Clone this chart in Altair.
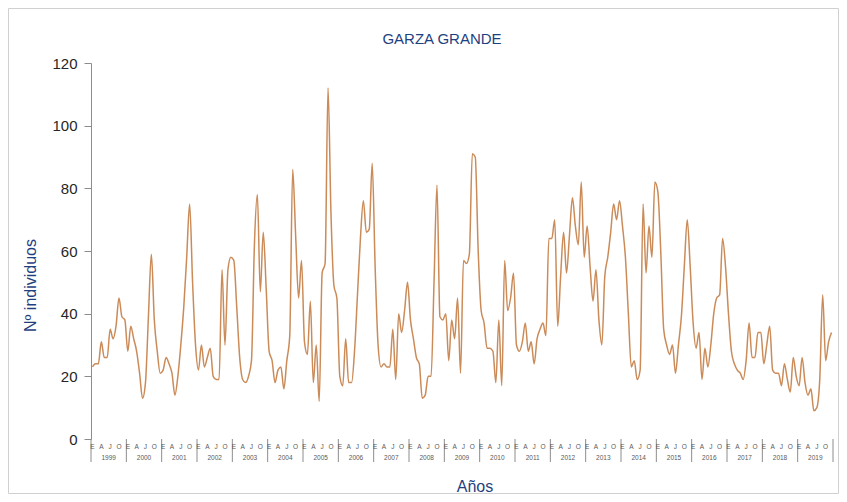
import altair as alt
import pandas as pd

# ---------------- data (monthly counts) ----------------
years = list(range(1999, 2020))
y1999 = [23, 24, 24, 31, 26, 26, 35, 32, 36, 45, 39, 38]
y2000 = [28, 36, 32, 28, 21, 13, 18, 39, 59, 38, 28, 21]
y2001 = [22, 26, 24, 21, 14, 20, 30, 42, 58, 75, 50, 30]
y2002 = [22, 30, 23, 26, 29, 20, 19, 19, 54, 30, 54, 58]
y2003 = [57, 42, 26, 19, 18, 20, 25, 62, 78, 47, 66, 48]
y2004 = [28, 25, 18, 22, 23, 16, 25, 33, 86, 65, 45, 57]
y2005 = [31, 27, 44, 18, 30, 12, 53, 56, 112, 72, 49, 45]
y2006 = [20, 17, 32, 18, 18, 28, 46, 64, 76, 66, 67, 88]
y2007 = [55, 30, 23, 24, 23, 23, 35, 19, 40, 34, 41, 50]
y2008 = [38, 32, 26, 24, 13, 14, 20, 20, 50, 81, 39, 38]
y2009 = [40, 25, 38, 32, 45, 21, 57, 56, 59, 91, 90, 60]
y2010 = [41, 37, 29, 29, 28, 18, 38, 17, 57, 41, 45, 53]
y2011 = [30, 28, 31, 37, 28, 31, 24, 32, 35, 37, 33, 64]
y2012 = [64, 70, 36, 52, 66, 53, 65, 77, 68, 62, 82, 58]
y2013 = [68, 55, 44, 54, 38, 30, 52, 58, 66, 75, 70, 76]
y2014 = [68, 58, 40, 23, 25, 19, 22, 75, 53, 68, 58, 82]
y2015 = [79, 60, 35, 30, 27, 30, 21, 30, 39, 55, 70, 55]
y2016 = [37, 29, 34, 19, 29, 23, 30, 40, 45, 46, 64, 55]
y2017 = [40, 28, 24, 22, 21, 19, 25, 37, 26, 26, 34, 34]
y2018 = [24, 30, 36, 22, 21, 21, 17, 24, 19, 15, 26, 20]
y2019 = [17, 26, 18, 14, 16, 9, 10, 19, 46, 25, 31, 34]
series = [y1999, y2000, y2001, y2002, y2003, y2004, y2005, y2006, y2007, y2008, y2009,
          y2010, y2011, y2012, y2013, y2014, y2015, y2016, y2017, y2018, y2019]

month_letters = ["E", "A", "J", "O"]          # shown month initials
month_offsets = [0, 3, 6, 9]                  # Enero, Abril, Julio, Octubre
y_ticks = [0, 20, 40, 60, 80, 100, 120]
x_title = "Años"

# ---------------- tables built from the arrays ----------------
rows = []
for k, vals in enumerate(series):
    for m, v in enumerate(vals):
        rows.append({"idx": k * 12 + m + 0.5, "valor": v})
df = pd.DataFrame(rows)

n_months = 12 * len(years)
df_months = pd.DataFrame(
    [{"idx": k * 12 + off + 0.5, "mes": lab}
     for k in range(len(years)) for off, lab in zip(month_offsets, month_letters)]
)
df_years = pd.DataFrame({"idx": [k * 12 + 6 for k in range(len(years))],
                         "anio": [str(y) for y in years]})
df_sep = pd.DataFrame({"idx": [k * 12 for k in range(len(years) + 1)]})
df_frame = pd.DataFrame({"a": [0]})
df_xtitle = pd.DataFrame({"t": [x_title]})

W, H = 742, 376
FONT = "Liberation Sans"
BLUE = "#1F3F7F"
GRAY = "#8C8C8C"
LINE = "#CB8B58"

x_scale = alt.Scale(domain=[0, n_months], nice=False, zero=False)
y_scale = alt.Scale(domain=[0, 120], nice=False)

line = alt.Chart(df).mark_line(color=LINE, strokeWidth=1.5, interpolate="monotone").encode(
    x=alt.X("idx:Q", scale=x_scale,
            axis=alt.Axis(labels=False, ticks=False, domainColor=GRAY, domainWidth=1, grid=False,
                          title=None)),
    y=alt.Y("valor:Q", scale=y_scale,
            axis=alt.Axis(values=y_ticks, labelFontSize=15, labelColor="#262626", labelFont=FONT,
                          labelPadding=7, tickSize=7, tickColor=GRAY, domainColor=GRAY,
                          grid=False,
                          title="Nº individuos", titleFont=FONT, titleFontSize=16,
                          titleFontWeight="normal", titleColor=BLUE,
                          titleX=-61, titleY=222, titleBaseline="middle")),
)

month_text = alt.Chart(df_months).mark_text(fontSize=6.5, color="#595959", font=FONT,
                                            baseline="middle").encode(
    x=alt.X("idx:Q", scale=x_scale, axis=None),
    y=alt.value(H + 8),
    text="mes:N",
)

year_text = alt.Chart(df_years).mark_text(fontSize=6.5, color="#595959", font=FONT,
                                          baseline="middle").encode(
    x=alt.X("idx:Q", scale=x_scale, axis=None),
    y=alt.value(H + 19),
    text="anio:N",
)

xtitle_text = alt.Chart(df_xtitle).mark_text(fontSize=16, color=BLUE, font=FONT,
                                             baseline="middle", align="center").encode(
    x=alt.value(384),
    y=alt.value(H + 48),
    text="t:N",
)

separators = alt.Chart(df_sep).mark_rule(color=GRAY, strokeWidth=1).encode(
    x=alt.X("idx:Q", scale=x_scale, axis=None),
    y=alt.value(H),
    y2=alt.value(H + 23),
)

frame = alt.Chart(df_frame).mark_rect(fill="transparent", stroke="#D0D0D0", strokeWidth=1).encode(
    x=alt.value(-82.5), x2=alt.value(W + 5.5), y=alt.value(-54.5), y2=alt.value(H + 54.5)
)

chart = alt.layer(frame, separators, line, month_text, year_text, xtitle_text).properties(
    width=W, height=H,
    padding={"left": 83, "top": 55, "right": 6, "bottom": 55},
    autosize=alt.AutoSizeParams(type="none"),
    title=alt.Title("GARZA GRANDE", font=FONT, fontSize=15, fontWeight="normal", color=BLUE,
                    anchor="middle", offset=12, dx=-20, dy=51),
).configure(background="white").configure_view(strokeWidth=0)

chart.save("out.html", embed_options={"renderer": "svg", "actions": False})
